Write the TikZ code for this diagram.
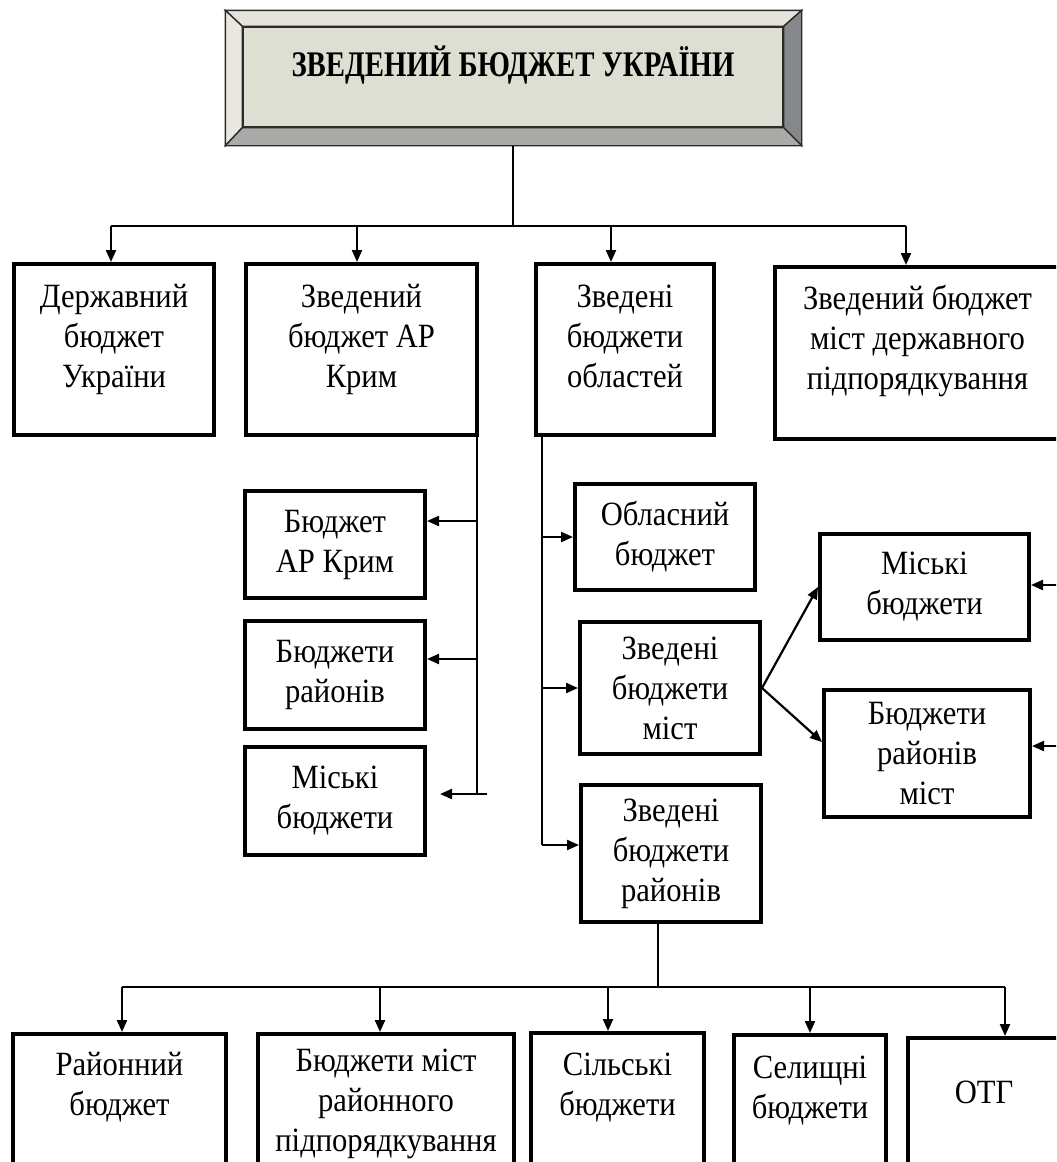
\documentclass[tikz,border=0pt]{standalone}
\usepackage{fontspec}
\setmainfont{Liberation Serif}[FakeStretch=0.9]
\newfontfamily\titlefont{Liberation Serif}[FakeStretch=0.8]
\usetikzlibrary{arrows.meta}
\definecolor{faceGrey}{HTML}{DEDFD3}
\definecolor{bevTop}{HTML}{E5E3DB}
\definecolor{bevLeft}{HTML}{E9E7DF}
\definecolor{bevRight}{HTML}{85878A}
\definecolor{bevBot}{HTML}{A9ABA8}
\definecolor{bevLine}{HTML}{2B2B2B}
\tikzset{
  budget/.style={draw, line width=2pt, fill=white, align=center, anchor=north west,
    inner sep=2pt, font=\fontsize{17}{20}\selectfont},
  hi/.style={text depth=#1},
  line/.style={line width=0.8pt},
  arr/.style={line width=1.1pt, -{Triangle[length=6pt,width=5pt]}},
  bevel/.style={draw=bevLine, line width=0.7pt, line join=miter},
  titleface/.style={fill=faceGrey, draw=bevLine, line width=0.7pt, minimum width=270pt,
    minimum height=50pt, font=\titlefont\fontsize{18}{20}\selectfont\bfseries, text depth=16pt},
}
\begin{document}
\begin{tikzpicture}[x=0.5pt, y=-0.5pt]
  \useasboundingbox (0,0) rectangle (1056,1162);
  \clip (0,0) rectangle (1056,1162);

  % title with bevelled frame
  \node[titleface] (title) at (513,77) {ЗВЕДЕНИЙ БЮДЖЕТ УКРАЇНИ};
  \filldraw[bevel, fill=bevTop] (title.north west) -- ([shift={(-8.5pt,8pt)}]title.north west)
    -- ([shift={(9pt,8pt)}]title.north east) -- (title.north east) -- cycle;
  \filldraw[bevel, fill=bevLeft] (title.north west) -- ([shift={(-8.5pt,8pt)}]title.north west)
    -- ([shift={(-8.5pt,-9pt)}]title.south west) -- (title.south west) -- cycle;
  \filldraw[bevel, fill=bevRight] (title.north east) -- ([shift={(9pt,8pt)}]title.north east)
    -- ([shift={(9pt,-9pt)}]title.south east) -- (title.south east) -- cycle;
  \filldraw[bevel, fill=bevBot] (title.south west) -- ([shift={(-8.5pt,-9pt)}]title.south west)
    -- ([shift={(9pt,-9pt)}]title.south east) -- (title.south east) -- cycle;

  % first level
  \node[budget, hi=13.5pt, minimum width=100pt, minimum height=85.5pt] (db) at (12,262) {Державний\\бюджет\\України};
  \node[budget, hi=13.5pt, minimum width=115.5pt, minimum height=85.5pt] (zbk) at (244,262) {Зведений\\бюджет АР\\Крим};
  \node[budget, hi=13.5pt, minimum width=89pt, minimum height=85.5pt] (zbo) at (534,262) {Зведені\\бюджети\\областей};
  \node[budget, hi=15.5pt, minimum width=142.5pt, minimum height=86pt] (zbm) at (773,265) {Зведений бюджет\\міст державного\\підпорядкування};

  % AR Krym
  \node[budget, minimum width=90pt, minimum height=53.5pt] (bkr) at (243,489) {Бюджет\\АР Крим};
  \node[budget, minimum width=90pt, minimum height=54pt] (br) at (243,619) {Бюджети\\районів};
  \node[budget, minimum width=90pt, minimum height=54pt] (mb1) at (243,745) {Міські\\бюджети};

  % oblasti
  \node[budget, minimum width=90pt, minimum height=53pt] (ob) at (573,482) {Обласний\\бюджет};
  \node[budget, minimum width=90pt, minimum height=66pt] (zbms) at (578,620) {Зведені\\бюджети\\міст};
  \node[budget, minimum width=90pt, minimum height=68.5pt] (zbr) at (579,783) {Зведені\\бюджети\\районів};
  \node[budget, minimum width=104.5pt, minimum height=53pt] (mb2) at (818,532) {Міські\\бюджети};
  \node[budget, minimum width=103pt, minimum height=63.5pt] (brm) at (822,688) {Бюджети\\районів\\міст};

  % rayony
  \node[budget, hi=35.5pt, minimum width=106.5pt, minimum height=85pt] (rb) at (11,1032) {Районний\\бюджет};
  \node[budget, hi=18.5pt, minimum width=128pt, minimum height=85pt] (bmr) at (256,1032) {Бюджети міст\\районного\\підпорядкування};
  \node[budget, hi=33.5pt, minimum width=86.5pt, minimum height=85pt] (sb) at (529,1031) {Сільські\\бюджети};
  \node[budget, hi=32.5pt, minimum width=76pt, minimum height=85pt] (slb) at (732,1033) {Селищні\\бюджети};
  \node[budget, hi=31pt, minimum width=76pt, minimum height=85pt] (otg) at (906,1036) {ОТГ};

  % top bus
  \coordinate (t1) at (111,226);
  \coordinate (t2) at (357,226);
  \coordinate (t3) at (611,226);
  \coordinate (t4) at (906,226);
  \coordinate (tb) at ([yshift=-9pt]title.south);
  \draw[line] (tb) -- (tb |- t1);
  \draw[line] (t1) -- (t4);
  \foreach \c/\n in {t1/db, t2/zbk, t3/zbo, t4/zbm}
    \draw[arr] (\c) -- (\c |- \n.north);

  % AR Krym branch
  \coordinate (kr) at ([xshift=-1pt]zbk.south east);
  \coordinate (mbend) at (487,794);
  \draw[line] (kr) -- (kr |- mbend);
  \draw[arr] ([yshift=11.75pt]bkr.east -| kr) -- ([yshift=11.75pt]bkr.east);
  \draw[arr] ([yshift=8pt]br.east -| kr) -- ([yshift=8pt]br.east);
  \draw[arr] (mbend) -- ([xshift=6.5pt]mb1.east |- mbend);

  % oblasti branch
  \coordinate (ob0) at ([xshift=4pt]zbo.south west);
  \coordinate (zbrin) at ([yshift=4.25pt]zbr.west);
  \draw[line] (ob0) -- (ob0 |- zbrin);
  \draw[arr] (ob0 |- ob.west) -- (ob.west);
  \draw[arr] (ob0 |- zbms.west) -- (zbms.west);
  \draw[arr] (ob0 |- zbrin) -- (zbrin);

  % cities
  \draw[arr] (zbms.east) -- (mb2.west);
  \draw[arr] (zbms.east) -- ([yshift=5.75pt]brm.west);
  \coordinate (rx1) at (1060,585);
  \coordinate (rx2) at (1060,746);
  \draw[arr] (rx1) -- (rx1 -| mb2.east);
  \draw[arr] (rx2) -- (rx2 -| brm.east);

  % bottom bus
  \coordinate (b1) at (122,987);
  \coordinate (b2) at (380,987);
  \coordinate (b3) at (608,987);
  \coordinate (b4) at (810,987);
  \coordinate (b5) at (1005,987);
  \coordinate (zr) at ([xshift=-6.5pt]zbr.south);
  \draw[line] (zr) -- (zr |- b1);
  \draw[line] (b1) -- (b5);
  \foreach \c/\n in {b1/rb, b2/bmr, b3/sb, b4/slb, b5/otg}
    \draw[arr] (\c) -- (\c |- \n.north);
\end{tikzpicture}
\end{document}
